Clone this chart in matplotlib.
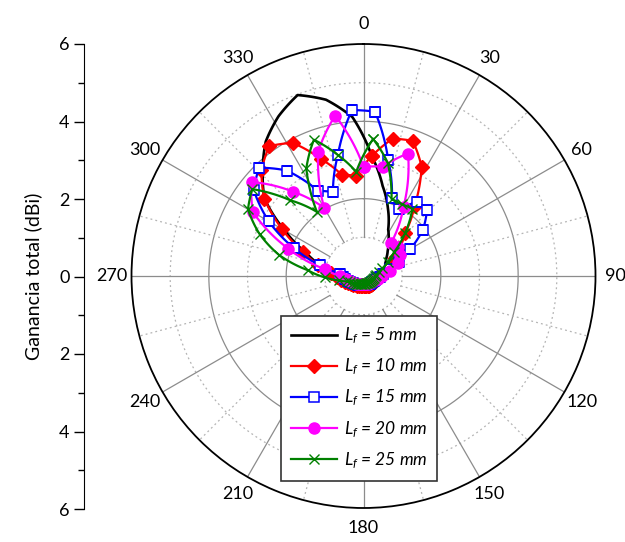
import numpy as np
import matplotlib
matplotlib.use("Agg")
import matplotlib.pyplot as plt
from matplotlib.ticker import FixedLocator, MultipleLocator

plt.rcParams["font.family"] = ["Lato", "DejaVu Sans"]
plt.rcParams["mathtext.fontset"] = "custom"
plt.rcParams["mathtext.it"] = "Lato:italic"
plt.rcParams["mathtext.rm"] = "Lato"

# angles (deg, clockwise from top)
angles_8 = list(range(4, 360, 8))
angles_10 = list(range(0, 360, 10))
angle_labels = list(range(0, 360, 30))

# total gain (dBi)
gain_5mm = [3.10, 2.38, 1.85, 1.36, 1.10, 0.90, 0.75, 0.65, 0.60, 0.56, 0.53, 0.51,
            0.50, 0.48, 0.46, 0.45, 0.44, 0.44, 0.44, 0.42, 0.38, 0.33, 0.28, 0.24,
            0.21, 0.20, 0.22, 0.25, 0.29, 0.34, 0.40, 0.46, 0.55, 0.70, 0.90, 1.15,
            1.60, 2.35, 3.25, 3.75, 4.30, 4.68, 4.98, 4.66, 4.12]
gain_10mm = [3.11, 3.63, 3.72, 3.20, 2.25, 1.56, 1.18, 0.95, 0.78, 0.62, 0.50, 0.42,
             0.37, 0.34, 0.32, 0.31, 0.30, 0.30, 0.29, 0.28, 0.27, 0.26, 0.26, 0.26,
             0.27, 0.28, 0.30, 0.32, 0.35, 0.39, 0.44, 0.50, 0.58, 0.68, 0.85, 1.20,
             1.69, 2.43, 3.25, 3.80, 4.15, 3.90, 3.22, 2.67, 2.60]
gain_15mm = [4.26, 3.07, 2.15, 1.97, 2.36, 2.36, 1.95, 1.39, 0.98, 0.70, 0.52, 0.42,
             0.36, 0.32, 0.30, 0.28, 0.27, 0.26, 0.25, 0.24, 0.23, 0.22, 0.22, 0.22,
             0.23, 0.24, 0.26, 0.28, 0.31, 0.34, 0.38, 0.43, 0.48, 0.52, 0.60, 1.16,
             1.95, 2.83, 3.60, 3.89, 3.37, 2.49, 2.31, 3.19, 4.30]
gain_20mm = [2.82, 2.87, 3.37, 2.07, 1.10, 1.15, 1.10, 0.95, 0.70, 0.48, 0.38, 0.32,
             0.28, 0.26, 0.25, 0.24, 0.22, 0.20, 0.20, 0.20, 0.22, 0.24, 0.27, 0.30,
             0.33, 0.38, 0.45, 0.60, 1.00, 2.07, 3.30, 3.78, 2.85, 2.03, 3.42, 4.21]
gain_25mm = [3.55, 3.00, 2.12, 2.10, 2.15, 1.55, 1.00, 0.72, 0.52, 0.40, 0.33, 0.29,
             0.27, 0.25, 0.24, 0.23, 0.22, 0.21, 0.20, 0.20, 0.20, 0.20, 0.20, 0.21,
             0.22, 0.23, 0.25, 0.27, 0.30, 0.34, 0.38, 0.45, 0.65, 1.00, 1.45, 2.25,
             2.90, 3.45, 3.65, 2.72, 2.05, 3.15, 3.75, 3.20, 2.70]

series = [
    (angles_8, gain_5mm, "black", None, "$L_f$ = 5 mm"),
    (angles_8, gain_10mm, "#ff0000", "D", "$L_f$ = 10 mm"),
    (angles_8, gain_15mm, "#0000ff", "s", "$L_f$ = 15 mm"),
    (angles_10, gain_20mm, "#ff00ff", "o", "$L_f$ = 20 mm"),
    (angles_8, gain_25mm, "#008000", "x", "$L_f$ = 25 mm"),
]

fig = plt.figure(figsize=(6.25, 5.42), dpi=100)
ax = fig.add_axes([131.5 / 625, 34 / 542, 464 / 625, 464 / 542], projection="polar")
ax.set_theta_zero_location("N")
ax.set_theta_direction(-1)
ax.set_ylim(0, 6)
ax.grid(False)
ax.set_yticks([])

# grid circles and spokes
full = np.linspace(0, 2 * np.pi, 361)
for r in [2, 4]:
    ax.plot(full, np.full_like(full, r), color="#8c8c8c", lw=0.9, zorder=1)
for r in [1, 3, 5]:
    ax.plot(full, np.full_like(full, r), color="#b4b4b4", lw=0.9, ls=(0, (1.5, 2.5)), zorder=1)
for d in range(0, 360, 30):
    ax.plot([np.radians(d)] * 2, [1, 6], color="#8c8c8c", lw=0.9, zorder=1)
for d in range(15, 360, 30):
    ax.plot([np.radians(d)] * 2, [1, 6], color="#b4b4b4", lw=0.9, ls=(0, (1.5, 2.5)), zorder=1)

for ang, gain, col, mk, lab in series:
    th = np.radians(ang + [ang[0] + 360])
    rr = list(gain) + [gain[0]]
    kw = dict(color=col, lw=1.6, label=lab, zorder=3)
    if mk == "s":
        kw.update(marker="s", ms=7, mfc="white", mec=col, mew=1.1)
    elif mk == "x":
        kw.update(marker="x", ms=7, mew=1.0)
    elif mk == "D":
        kw.update(marker="D", ms=7)
    elif mk == "o":
        kw.update(marker="o", ms=8)
    else:
        kw.update(lw=1.9)
    ln, = ax.plot(th, rr, **kw)
    ln.get_path()._interpolation_steps = 20

ax.spines["polar"].set_color("black")
ax.spines["polar"].set_linewidth(1.3)
ax.set_xticks(np.radians(angle_labels))
ax.set_xticklabels([])
ax.xaxis.set_minor_locator(FixedLocator(np.radians(np.arange(15, 360, 30))))
ax.tick_params(axis="x", which="major", direction="in", length=8, width=1.0)
ax.tick_params(axis="x", which="minor", direction="in", length=5, width=0.8)
for d in angle_labels:
    ax.text(np.radians(d), 6.52, str(d), ha="center", va="center", fontsize=13,
            clip_on=False)

# left radial scale
axl = fig.add_axes([84 / 625, 33 / 542, 0.0001, 465 / 542])
axl.patch.set_visible(False)
for s in ["top", "right", "bottom"]:
    axl.spines[s].set_visible(False)
axl.set_xticks([])
axl.set_ylim(-6, 6)
yt = [-6, -4, -2, 0, 2, 4, 6]
axl.set_yticks(yt)
axl.set_yticklabels([str(abs(v)) for v in yt], fontsize=13)
axl.yaxis.set_minor_locator(MultipleLocator(1))
axl.tick_params(axis="y", which="major", length=7, width=1.0)
axl.tick_params(axis="y", which="minor", length=4, width=1.0)
axl.set_ylabel("Ganancia total (dBi)", fontsize=14, labelpad=12)

leg = ax.legend(loc="lower left", bbox_to_anchor=(281 / 625, 61 / 542),
                bbox_transform=fig.transFigure, borderaxespad=0,
                prop=dict(size=12.5, style="italic"), fancybox=False,
                edgecolor="#333333", handlelength=2.6, labelspacing=0.62,
                borderpad=0.6, handletextpad=0.4)
leg.get_frame().set_linewidth(1.2)
leg.get_frame().set_alpha(1)

fig.savefig("out.png", dpi=100)
